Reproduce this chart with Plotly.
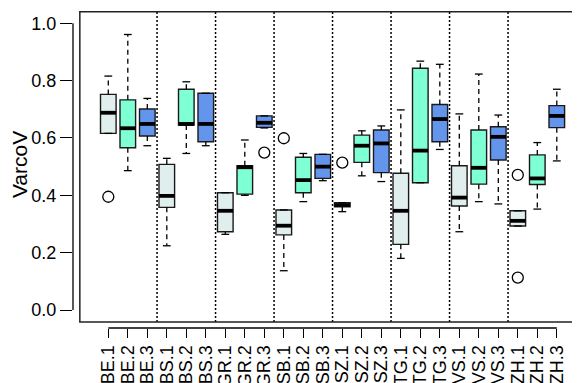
import plotly.graph_objects as go

labels = ["BE.1", "BE.2", "BE.3", "BS.1", "BS.2", "BS.3", "GR.1", "GR.2", "GR.3",
          "SB.1", "SB.2", "SB.3", "SZ.1", "SZ.2", "SZ.3", "TG.1", "TG.2", "TG.3",
          "VS.1", "VS.2", "VS.3", "ZH.1", "ZH.2", "ZH.3"]
lower = [0.616, 0.486, 0.573, 0.224, 0.546, 0.573, 0.264, 0.400, 0.635,
         0.137, 0.378, 0.451, 0.343, 0.468, 0.448, 0.180, 0.444, 0.560,
         0.273, 0.378, 0.370, 0.293, 0.352, 0.520]
q1 = [0.616, 0.566, 0.607, 0.358, 0.645, 0.587, 0.273, 0.404, 0.637,
      0.262, 0.409, 0.459, 0.360, 0.515, 0.479, 0.229, 0.444, 0.587,
      0.363, 0.439, 0.523, 0.293, 0.438, 0.636]
median = [0.688, 0.634, 0.649, 0.398, 0.649, 0.649, 0.346, 0.498, 0.653,
          0.294, 0.453, 0.500, 0.366, 0.573, 0.581, 0.346, 0.556, 0.666,
          0.392, 0.496, 0.604, 0.311, 0.459, 0.677]
q3 = [0.752, 0.733, 0.701, 0.508, 0.770, 0.756, 0.409, 0.503, 0.677,
      0.349, 0.533, 0.543, 0.374, 0.610, 0.628, 0.477, 0.843, 0.717,
      0.503, 0.628, 0.639, 0.346, 0.541, 0.713]
upper = [0.816, 0.961, 0.738, 0.529, 0.796, 0.756, 0.409, 0.593, 0.677,
         0.349, 0.546, 0.543, 0.374, 0.625, 0.642, 0.698, 0.868, 0.857,
         0.684, 0.823, 0.680, 0.346, 0.584, 0.770]
outlier_labels = ["BE.1", "GR.3", "SB.1", "SZ.1", "ZH.1", "ZH.1"]
outlier_values = [0.395, 0.549, 0.599, 0.514, 0.471, 0.113]
y_ticks = [0.0, 0.2, 0.4, 0.6, 0.8, 1.0]
y_ticktext = ["0.0", "0.2", "0.4", "0.6", "0.8", "1.0"]

colors = ["#E0EEEE", "#7FFFD4", "#6495ED"]
FONT = "Liberation Sans, Arial, Helvetica, sans-serif"
BW = 0.8

pos = list(range(1, len(labels) + 1))
fig = go.Figure()

# boxes, one trace per colour group
for g in range(3):
    idx = [i for i in range(len(labels)) if i % 3 == g]
    fig.add_trace(go.Box(
        x=[pos[i] for i in idx],
        q1=[q1[i] for i in idx], median=[median[i] for i in idx], q3=[q3[i] for i in idx],
        lowerfence=[q1[i] for i in idx], upperfence=[q3[i] for i in idx],
        width=BW, fillcolor=colors[g], line=dict(color="#1a1a1a", width=1.4),
        boxpoints=False, showlegend=False, hoverinfo="skip"))

# dashed whiskers
wx, wy = [], []
for i, p in enumerate(pos):
    if upper[i] > q3[i]:
        wx += [p, p, None]; wy += [q3[i], upper[i], None]
    if lower[i] < q1[i]:
        wx += [p, p, None]; wy += [q1[i], lower[i], None]
fig.add_trace(go.Scatter(x=wx, y=wy, mode="lines", line=dict(color="black", width=1.3, dash="5px,4px"),
                         showlegend=False, hoverinfo="skip"))
# staples
sx, sy = [], []
for i, p in enumerate(pos):
    for v in (upper[i], lower[i]):
        sx += [p - BW / 4, p + BW / 4, None]; sy += [v, v, None]
fig.add_trace(go.Scatter(x=sx, y=sy, mode="lines", line=dict(color="black", width=1.3),
                         showlegend=False, hoverinfo="skip"))
# thick medians
mx, my = [], []
for i, p in enumerate(pos):
    mx += [p - BW / 2, p + BW / 2, None]; my += [median[i], median[i], None]
fig.add_trace(go.Scatter(x=mx, y=my, mode="lines", line=dict(color="black", width=3.8),
                         showlegend=False, hoverinfo="skip"))
# outliers
fig.add_trace(go.Scatter(x=[pos[labels.index(l)] for l in outlier_labels], y=outlier_values,
                         mode="markers", marker=dict(symbol="circle-open", size=11,
                                                     color="black", line=dict(width=1.3)),
                         showlegend=False, hoverinfo="skip"))

shapes = []
# dotted group separators
for k in range(1, 8):
    xv = 3 * k + 0.5
    shapes.append(dict(type="line", xref="x", yref="y", x0=xv, x1=xv, y0=-0.042, y1=1.040,
                       line=dict(color="black", width=1.5, dash="2px,2px")))
# plot frame
shapes.append(dict(type="rect", xref="x", yref="y", x0=-0.46, x1=25.46, y0=-0.042, y1=1.040,
                   line=dict(color="#222222", width=1.5)))
# axis lines
shapes.append(dict(type="line", xref="paper", yref="y", x0=0, x1=0, y0=0, y1=1,
                   line=dict(color="black", width=1.3)))
shapes.append(dict(type="line", xref="x", yref="paper", x0=1, x1=24, y0=0, y1=0,
                   line=dict(color="black", width=1.3)))

fig.update_layout(
    width=580, height=383,
    margin=dict(l=65, r=8, t=0, b=63),
    paper_bgcolor="white", plot_bgcolor="white",
    boxmode="overlay",
    shapes=shapes,
    font=dict(family=FONT, color="black"),
    xaxis=dict(range=[-0.810, 25.190], tickmode="array", tickvals=pos, ticktext=labels,
               tickangle=-90, ticks="outside", ticklen=9, tickwidth=1.3, tickcolor="black",
               showgrid=False, zeroline=False, showline=False, automargin=False,
               tickfont=dict(size=18, family=FONT, color="black")),
    yaxis=dict(range=[-0.0628, 1.0534], tickmode="array", tickvals=y_ticks, ticktext=y_ticktext,
               ticks="outside", ticklen=12, tickwidth=1.3, tickcolor="black",
               showgrid=False, zeroline=False, showline=False, automargin=False,
               tickfont=dict(size=18, family=FONT, color="black")),
    annotations=[dict(text="VarcoV", xref="paper", yref="paper", x=0, y=0.509,
                      xanchor="center", yanchor="middle", xshift=-54, textangle=-90,
                      showarrow=False, font=dict(size=21, family=FONT, color="black"))],
)

fig.write_html("out.html")
